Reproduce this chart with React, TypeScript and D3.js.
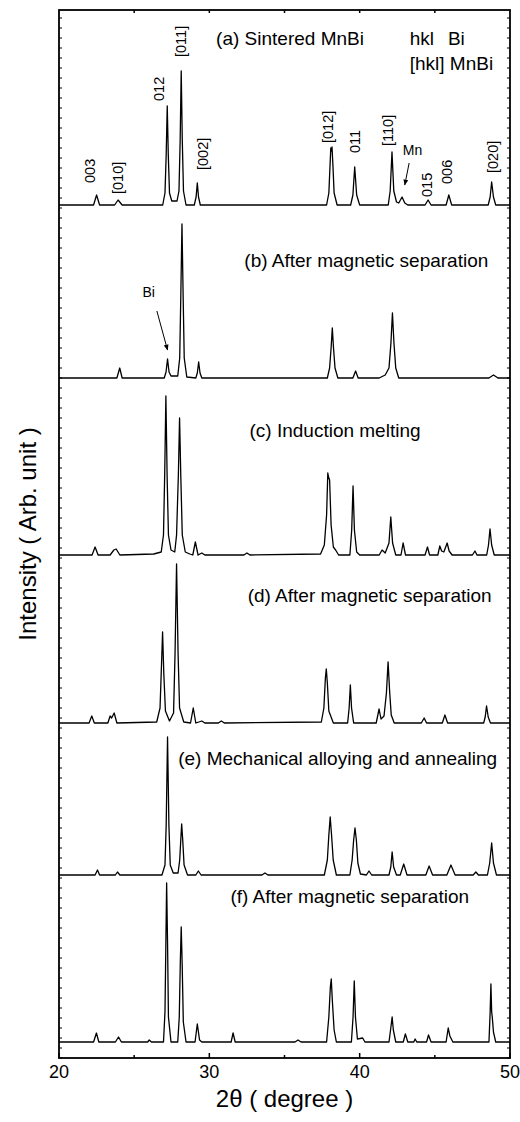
import { useEffect, useRef } from "react";
import * as d3 from "d3";

type Pt = [number, number];

// 2θ (deg), intensity above the pattern's own baseline (arb. unit)
const patternA: Pt[] = [
  [20, 0], [22.3, 0], [22.5, 10], [22.7, 0], [23.7, 0], [23.93, 5], [24.2, 0],
  [26.9, 0], [27.05, 12], [27.13, 50], [27.2, 99], [27.27, 50], [27.35, 12], [27.5, 4],
  [27.85, 4], [27.98, 14], [28.06, 65], [28.13, 134], [28.2, 65], [28.28, 14], [28.45, 0],
  [29.0, 0], [29.12, 8], [29.2, 22], [29.28, 8], [29.4, 0],
  [37.8, 0], [37.95, 12], [38.03, 40], [38.08, 57], [38.12, 54], [38.16, 58], [38.22, 40], [38.3, 12], [38.5, 0],
  [39.4, 0], [39.55, 10], [39.67, 38], [39.8, 10], [40.0, 0],
  [41.9, 0], [42.03, 14], [42.15, 53], [42.27, 14], [42.45, 3], [42.6, 2], [42.82, 8], [43.0, 2], [43.2, 0],
  [44.35, 0], [44.55, 5], [44.75, 0], [45.75, 0], [45.93, 10], [46.12, 0],
  [48.55, 0], [48.68, 8], [48.78, 23], [48.9, 8], [49.05, 0], [50, 0],
];

const patternB: Pt[] = [
  [20, 0], [23.85, 0], [24.04, 10], [24.2, 0],
  [27.0, 0], [27.12, 6], [27.22, 19], [27.32, 6], [27.45, 2],
  [27.9, 2], [28.03, 20], [28.1, 80], [28.18, 154], [28.26, 80], [28.33, 20], [28.5, 1],
  [29.1, 0], [29.2, 5], [29.29, 16], [29.38, 5], [29.5, 0],
  [37.85, 0], [38.0, 10], [38.1, 30], [38.18, 50], [38.26, 30], [38.36, 10], [38.55, 0],
  [39.55, 0], [39.73, 7], [39.9, 0],
  [41.3, 0], [41.7, 3], [41.95, 10], [42.08, 35], [42.18, 65], [42.28, 35], [42.4, 10], [42.6, 0],
  [48.6, 0], [48.9, 3], [49.2, 0], [50, 0],
];

const patternC: Pt[] = [
  [20, 0], [22.2, 0], [22.4, 8], [22.6, 0], [23.4, 0], [23.65, 5], [23.8, 6], [24.05, 0],
  [26.3, 1], [26.8, 3], [26.95, 20], [27.03, 80], [27.11, 159], [27.19, 80], [27.28, 20], [27.45, 5], [27.7, 3],
  [27.82, 20], [27.94, 80], [28.02, 137], [28.1, 80], [28.2, 20], [28.4, 3], [28.7, 1],
  [28.9, 0], [29.07, 13], [29.25, 0], [29.5, 2], [29.7, 0], [32.3, 0], [32.5, 2], [32.7, 0],
  [37.4, 1], [37.65, 10], [37.8, 40], [37.88, 82], [37.93, 78], [38.0, 75], [38.1, 30], [38.25, 8], [38.4, 5], [38.6, 0],
  [39.35, 0], [39.47, 25], [39.56, 69], [39.65, 25], [39.8, 3], [40.0, 0],
  [41.3, 0], [41.49, 5], [41.7, 2], [41.95, 12], [42.07, 38], [42.19, 12], [42.4, 0],
  [42.75, 0], [42.89, 12], [43.05, 0], [44.35, 0], [44.51, 8], [44.65, 0],
  [45.2, 0], [45.33, 9], [45.45, 4], [45.6, 3], [45.82, 12], [45.95, 4], [46.15, 0],
  [47.5, 0], [47.67, 4], [47.8, 0], [48.45, 0], [48.57, 10], [48.67, 26], [48.78, 10], [48.95, 0], [50, 0],
];

const patternD: Pt[] = [
  [20, 0], [22.0, 0], [22.18, 7], [22.35, 0], [23.25, 0], [23.4, 7], [23.5, 5], [23.67, 10], [23.85, 0],
  [26.5, 1], [26.72, 15], [26.8, 50], [26.89, 91], [26.97, 50], [27.08, 12], [27.35, 2],
  [27.62, 10], [27.72, 70], [27.82, 159], [27.92, 70], [28.02, 15], [28.3, 1],
  [28.75, 0], [28.93, 15], [29.1, 0], [29.5, 2], [29.7, 0], [30.6, 0], [30.8, 2], [31.0, 0],
  [37.45, 1], [37.62, 15], [37.72, 45], [37.78, 54], [37.85, 40], [37.95, 12], [38.1, 6], [38.25, 0],
  [39.2, 0], [39.3, 15], [39.38, 38], [39.46, 15], [39.6, 0],
  [41.1, 0], [41.29, 14], [41.42, 4], [41.62, 7], [41.78, 30], [41.89, 61], [42.0, 30], [42.1, 8], [42.3, 0],
  [44.1, 0], [44.29, 5], [44.45, 0], [45.5, 0], [45.67, 8], [45.85, 0],
  [48.25, 0], [48.35, 6], [48.44, 17], [48.55, 6], [48.7, 0], [50, 0],
];

const patternE: Pt[] = [
  [20, 0], [22.4, 0], [22.56, 5], [22.7, 0], [23.75, 0], [23.89, 3], [24.05, 0],
  [26.85, 0], [27.05, 10], [27.13, 50], [27.22, 138], [27.31, 50], [27.4, 10], [27.6, 2],
  [27.92, 2], [28.03, 15], [28.1, 35], [28.16, 51], [28.23, 35], [28.32, 10], [28.55, 0],
  [29.1, 0], [29.27, 4], [29.45, 0], [33.5, 0], [33.7, 2], [33.9, 0],
  [37.65, 0], [37.85, 15], [37.95, 40], [38.04, 58], [38.13, 40], [38.24, 15], [38.45, 0],
  [39.35, 0], [39.5, 15], [39.6, 35], [39.69, 47], [39.78, 35], [39.88, 12], [40.05, 1],
  [40.45, 0], [40.62, 4], [40.8, 0], [41.95, 0], [42.07, 8], [42.16, 23], [42.26, 8], [42.45, 0],
  [42.7, 0], [42.93, 11], [43.15, 0], [44.4, 0], [44.62, 9], [44.85, 0],
  [45.8, 0], [46.07, 10], [46.35, 0], [47.55, 0], [47.73, 3], [47.9, 0],
  [48.5, 0], [48.65, 12], [48.78, 32], [48.9, 12], [49.1, 0], [50, 0],
];

const patternF: Pt[] = [
  [20, 0], [22.3, 0], [22.49, 9], [22.65, 0], [23.75, 0], [23.96, 5], [24.15, 0],
  [25.9, 0], [26.0, 2], [26.15, 0],
  [26.95, 0], [27.05, 30], [27.11, 100], [27.16, 159], [27.22, 100], [27.28, 25], [27.45, 0],
  [27.9, 0], [28.0, 25], [28.07, 80], [28.13, 115], [28.19, 80], [28.27, 20], [28.45, 0],
  [29.05, 0], [29.2, 18], [29.35, 2], [29.5, 0], [31.45, 0], [31.58, 9], [31.72, 0],
  [35.7, 0], [35.9, 2], [36.1, 0],
  [37.8, 0], [37.95, 25], [38.05, 55], [38.11, 63], [38.18, 42], [38.3, 12], [38.45, 0],
  [39.45, 0], [39.56, 25], [39.64, 61], [39.72, 25], [39.85, 3], [40.2, 4], [40.35, 0],
  [41.95, 0], [42.08, 15], [42.16, 25], [42.24, 12], [42.4, 0],
  [42.9, 0], [43.04, 8], [43.2, 0], [43.6, 0], [43.69, 3], [43.8, 0],
  [44.45, 0], [44.58, 7], [44.75, 0], [45.75, 0], [45.89, 14], [46.0, 6], [46.2, 0],
  [48.6, 0], [48.68, 30], [48.73, 58], [48.78, 30], [48.82, 25], [48.9, 10], [49.05, 0], [50, 0],
];

const patterns: Pt[][] = [patternA, patternB, patternC, patternD, patternE, patternF];
const baselines = [853, 680, 503, 335, 183, 16];
const panelTitles = [
  "(a) Sintered MnBi",
  "(b) After magnetic separation",
  "(c) Induction melting",
  "(d) After magnetic separation",
  "(e) Mechanical alloying and annealing",
  "(f) After magnetic separation",
];
// title anchor: [2θ, intensity above the panel baseline]
const titlePos: Pt[] = [[30.45, 160], [32.33, 111], [32.67, 118], [32.55, 121], [27.93, 110], [31.4, 139]];

// peak indexing of pattern (a): label, 2θ, intensity above baseline
const hklLabels = ["003", "[010]", "012", "[011]", "[002]", "[012]", "011", "[110]", "015", "006", "[020]"];
const hklTheta = [22.07, 23.95, 26.67, 28.11, 29.55, 37.89, 39.67, 41.89, 44.45, 45.78, 48.89];
const hklLevel = [22, 11, 104, 148, 35, 62, 52, 59, 8, 21, 32];

const xTicks = [20, 30, 40, 50];
const xMinorTicks = [25, 35, 45];

function App() {
  const ref = useRef<SVGSVGElement | null>(null);

  useEffect(() => {
    const svg = d3.select(ref.current);
    svg.selectAll("*").remove();

    const font = "'Liberation Sans', Arial, Helvetica, sans-serif";
    const left = 59, right = 510, top = 10, bottom = 1058;

    const x = d3.scaleLinear().domain([20, 50]).range([left, right]);
    const y = d3.scaleLinear().domain([0, 1048]).range([bottom, top]);

    svg
      .append("defs")
      .append("marker")
      .attr("id", "arrow")
      .attr("viewBox", "0 0 10 10")
      .attr("refX", 9)
      .attr("refY", 5)
      .attr("markerWidth", 6)
      .attr("markerHeight", 6)
      .attr("orient", "auto")
      .append("path")
      .attr("d", "M0,1 L10,5 L0,9 Z")
      .attr("fill", "#000");

    // patterns
    patterns.forEach((pts, i) => {
      const base = baselines[i];
      const line = d3
        .line<Pt>()
        .x((d) => x(d[0]))
        .y((d) => y(base + d[1]));
      svg
        .append("path")
        .datum(pts)
        .attr("fill", "none")
        .attr("stroke", "#000")
        .attr("stroke-width", 1.3)
        .attr("stroke-linejoin", "round")
        .attr("d", line);

      svg
        .append("text")
        .attr("x", x(titlePos[i][0]))
        .attr("y", y(base + titlePos[i][1]))
        .attr("font-family", font)
        .attr("font-size", 19)
        .text(panelTitles[i]);
    });

    // hkl labels, rotated
    const baseA = baselines[0];
    hklLabels.forEach((lab, i) => {
      const px = x(hklTheta[i]);
      const py = y(baseA + hklLevel[i]);
      svg
        .append("text")
        .attr("transform", `translate(${px},${py}) rotate(-90)`)
        .attr("dy", "0.35em")
        .attr("font-family", font)
        .attr("font-size", 14.5)
        .text(lab);
    });

    // legend of the index notation
    svg.append("text").attr("x", x(43.33)).attr("y", y(baseA + 160))
      .attr("font-family", font).attr("font-size", 19).text("hkl");
    svg.append("text").attr("x", x(45.87)).attr("y", y(baseA + 160))
      .attr("font-family", font).attr("font-size", 19).text("Bi");
    svg.append("text").attr("x", x(43.33)).attr("y", y(baseA + 135))
      .attr("font-family", font).attr("font-size", 19).text("[hkl] MnBi");

    // Mn marker in (a)
    svg.append("text").attr("x", x(42.87)).attr("y", y(baseA + 50))
      .attr("font-family", font).attr("font-size", 14).text("Mn");
    svg.append("line")
      .attr("x1", x(43.29)).attr("y1", y(baseA + 42))
      .attr("x2", x(43.0)).attr("y2", y(baseA + 20))
      .attr("stroke", "#000").attr("stroke-width", 1)
      .attr("marker-end", "url(#arrow)");

    // Bi marker in (b)
    const baseB = baselines[1];
    svg.append("text").attr("x", x(25.55)).attr("y", y(baseB + 81))
      .attr("font-family", font).attr("font-size", 14).text("Bi");
    svg.append("line")
      .attr("x1", x(26.51)).attr("y1", y(baseB + 67))
      .attr("x2", x(27.22)).attr("y2", y(baseB + 28))
      .attr("stroke", "#000").attr("stroke-width", 1)
      .attr("marker-end", "url(#arrow)");

    // frame
    svg.append("rect")
      .attr("x", left).attr("y", top)
      .attr("width", right - left).attr("height", bottom - top)
      .attr("fill", "none").attr("stroke", "#000").attr("stroke-width", 1.8);

    // y ticks (both sides, inward)
    const yTicks = d3.range(0, 1048, 10);
    svg.append("g").selectAll("line").data(yTicks).join("line")
      .attr("x1", left).attr("x2", left + 3)
      .attr("y1", (d) => y(d)).attr("y2", (d) => y(d))
      .attr("stroke", "#000").attr("stroke-width", 1);
    svg.append("g").selectAll("line").data(yTicks).join("line")
      .attr("x1", right).attr("x2", right - 3)
      .attr("y1", (d) => y(d)).attr("y2", (d) => y(d))
      .attr("stroke", "#000").attr("stroke-width", 1);

    // x ticks
    svg.append("g").selectAll("line").data(xTicks).join("line")
      .attr("x1", (d) => x(d)).attr("x2", (d) => x(d))
      .attr("y1", bottom).attr("y2", bottom - 5)
      .attr("stroke", "#000").attr("stroke-width", 1.5);
    svg.append("g").selectAll("line").data(xMinorTicks).join("line")
      .attr("x1", (d) => x(d)).attr("x2", (d) => x(d))
      .attr("y1", bottom).attr("y2", bottom - 3)
      .attr("stroke", "#000").attr("stroke-width", 1.5);
    svg.append("g").selectAll("line").data([...xMinorTicks, 30, 40]).join("line")
      .attr("x1", (d) => x(d)).attr("x2", (d) => x(d))
      .attr("y1", top).attr("y2", top + 3)
      .attr("stroke", "#000").attr("stroke-width", 1.5);

    svg.append("g").selectAll("text").data(xTicks).join("text")
      .attr("x", (d) => x(d)).attr("y", bottom + 20)
      .attr("text-anchor", "middle")
      .attr("font-family", font).attr("font-size", 18)
      .text((d) => d);

    // axis titles
    svg.append("text")
      .attr("x", (left + right) / 2).attr("y", 1107)
      .attr("text-anchor", "middle")
      .attr("font-family", font).attr("font-size", 24)
      .text("2θ ( degree )");

    svg.append("text")
      .attr("transform", `translate(28,${(top + bottom) / 2}) rotate(-90)`)
      .attr("dy", "0.35em")
      .attr("text-anchor", "middle")
      .attr("font-family", font).attr("font-size", 24)
      .text("Intensity ( Arb. unit )");
  }, []);

  return (
    <div style={{ position: "absolute", left: 0, top: 0 }}>
      <svg ref={ref} width={520} height={1122} style={{ display: "block", background: "#fff" }} />
    </div>
  );
}

export default App;
